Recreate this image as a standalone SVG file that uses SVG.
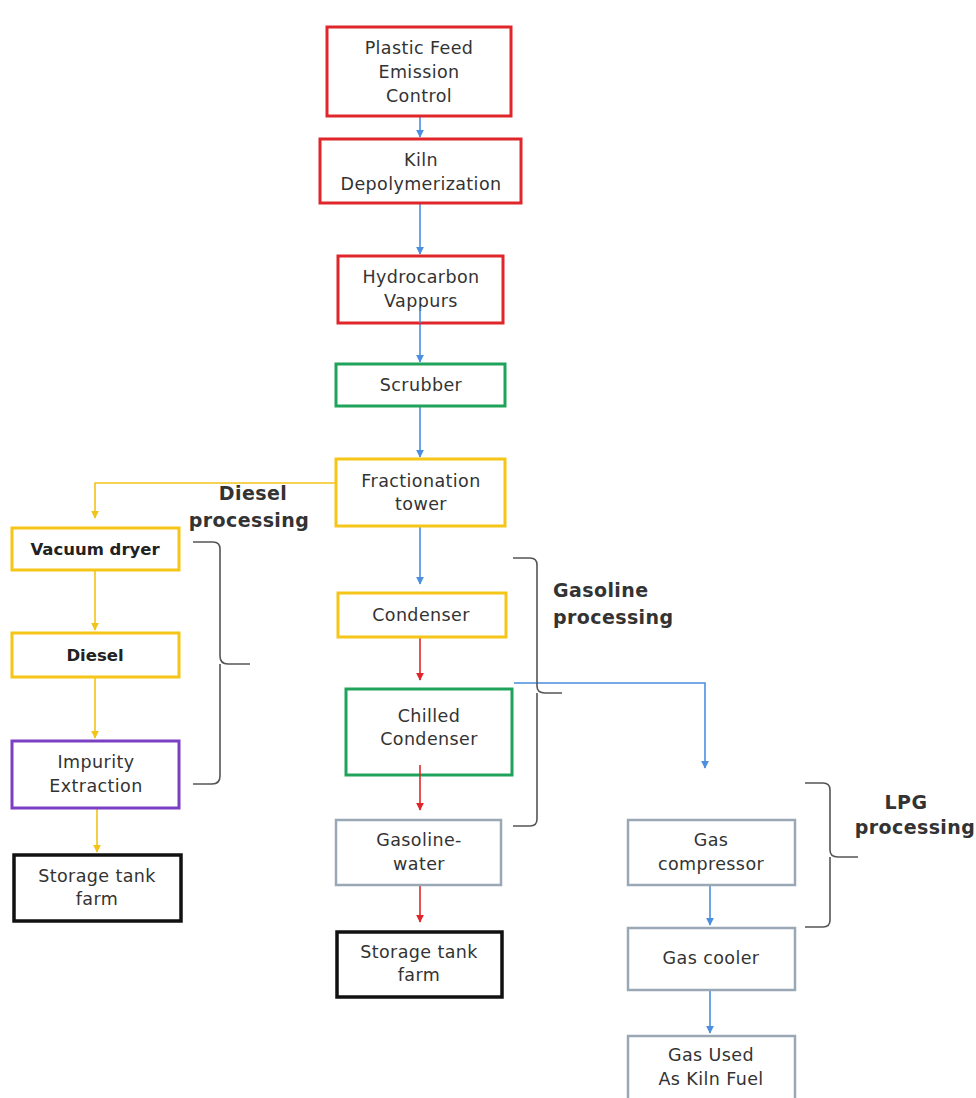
<svg xmlns="http://www.w3.org/2000/svg" width="976" height="1098" viewBox="0 0 976 1098">
<defs>
<style>
.box{fill:#fff;stroke-width:3}
.red{stroke:#e0262b}
.green{stroke:#1fa35a}
.yellow{stroke:#f5c518}
.purple{stroke:#7a3fc4}
.gray{stroke:#9aa8b6;stroke-width:2.5}
.black{stroke:#111;stroke-width:3.5}
text{font-family:"DejaVu Sans","Liberation Sans",sans-serif;font-size:17.5px;letter-spacing:0.4px;fill:#333;text-anchor:middle}
.b{font-weight:bold;fill:#222;font-size:16.5px;letter-spacing:0}
.lbl{font-weight:bold;font-size:19px;letter-spacing:0.4px;fill:#333}
.cb{fill:none;stroke-width:1.6}
.cblue{stroke:#4a8fe0}
.cred{stroke:#e0262b}
.cyel{stroke:#f2c318}
.brace{fill:none;stroke:#555;stroke-width:1.6}
</style>
<marker id="ab" viewBox="0 0 10 10" refX="9" refY="5" markerWidth="5" markerHeight="5" orient="auto"><path d="M0,0L10,5L0,10z" fill="#4a8fe0"/></marker>
<marker id="ar" viewBox="0 0 10 10" refX="9" refY="5" markerWidth="5" markerHeight="5" orient="auto"><path d="M0,0L10,5L0,10z" fill="#e0262b"/></marker>
<marker id="ay" viewBox="0 0 10 10" refX="9" refY="5" markerWidth="5" markerHeight="5" orient="auto"><path d="M0,0L10,5L0,10z" fill="#f2c318"/></marker>
</defs>
<rect width="976" height="1098" fill="#fff"/>
<g id="connectors">
<path class="cb cblue" d="M420,117V137" marker-end="url(#ab)"/>
<path class="cb cblue" d="M420,204V254" marker-end="url(#ab)"/>
<path class="cb cblue" d="M420,300V362" marker-end="url(#ab)"/>
<path class="cb cblue" d="M420,407V457" marker-end="url(#ab)"/>
<path class="cb cblue" d="M420,527V584" marker-end="url(#ab)"/>
<path class="cb cred" d="M420,638V680" marker-end="url(#ar)"/>
<path class="cb cred" d="M420,745V810" marker-end="url(#ar)"/>
<path class="cb cred" d="M420,886V922" marker-end="url(#ar)"/>
<path class="cb cblue" d="M514,683H705V768" marker-end="url(#ab)"/>
<path class="cb cblue" d="M710,886V925" marker-end="url(#ab)"/>
<path class="cb cblue" d="M710,991V1033" marker-end="url(#ab)"/>
<path class="cb cyel" d="M335,483H95V518" marker-end="url(#ay)"/>
<path class="cb cyel" d="M95,571V630" marker-end="url(#ay)"/>
<path class="cb cyel" d="M95,678V738" marker-end="url(#ay)"/>
<path class="cb cyel" d="M97,809V852" marker-end="url(#ay)"/>
</g>
<g id="braces">
<path class="brace" d="M193,542H213Q220,542 220,549V656Q220,664 228,664H250M220,664V776Q220,784 212,784H193"/>
<path class="brace" d="M513,558H530Q537,558 537,565V686Q537,693 545,693H562M537,693V819Q537,826 530,826H513"/>
<path class="brace" d="M805,783H823Q830,783 830,790V850Q830,857 838,857H858M830,857V920Q830,927 823,927H805"/>
</g>
<g id="labels">
<text class="lbl" x="253" y="500">Diesel</text>
<text class="lbl" x="249" y="527">processing</text>
<text class="lbl" x="553" y="597" style="text-anchor:start">Gasoline</text>
<text class="lbl" x="553" y="624" style="text-anchor:start">processing</text>
<text class="lbl" x="906" y="809">LPG</text>
<text class="lbl" x="915" y="834">processing</text>
</g>
<g id="n1"><rect class="box red" x="327" y="27" width="184" height="89"/><text x="419" y="54">Plastic Feed</text><text x="419" y="78">Emission</text><text x="419" y="102">Control</text></g>
<g id="n2"><rect class="box red" x="320" y="139" width="201" height="64"/><text x="421" y="166">Kiln</text><text x="421" y="190">Depolymerization</text></g>
<g id="n3"><rect class="box red" x="338" y="256" width="165" height="67"/><text x="421" y="283">Hydrocarbon</text><text x="421" y="307">Vappurs</text></g>
<path class="cb cblue" d="M420,308V323"/>
<g id="n4"><rect class="box green" x="336" y="364" width="169" height="42"/><text x="421" y="391">Scrubber</text></g>
<g id="n5"><rect class="box yellow" x="336" y="459" width="169" height="67"/><text x="421" y="487">Fractionation</text><text x="421" y="510">tower</text></g>
<g id="n6"><rect class="box yellow" x="12" y="528" width="167" height="42"/><text class="b" x="95" y="555">Vacuum dryer</text></g>
<g id="n7"><rect class="box yellow" x="12" y="633" width="167" height="44"/><text class="b" x="95" y="661">Diesel</text></g>
<g id="n8"><rect class="box purple" x="12" y="741" width="167" height="67"/><text x="96" y="768">Impurity</text><text x="96" y="792">Extraction</text></g>
<g id="n9"><rect class="box black" x="14" y="855" width="167" height="66"/><text x="97" y="882">Storage tank</text><text x="97" y="905">farm</text></g>
<g id="n10"><rect class="box yellow" x="338" y="593" width="168" height="44"/><text x="421" y="621">Condenser</text></g>
<g id="n11"><rect class="box green" x="346" y="689" width="166" height="86"/><text x="429" y="722">Chilled</text><text x="429" y="745">Condenser</text></g>
<path class="cb cred" d="M420,765V776"/>
<g id="n12"><rect class="box gray" x="336" y="820" width="165" height="65"/><text x="419" y="846">Gasoline-</text><text x="419" y="870">water</text></g>
<g id="n13"><rect class="box black" x="337" y="932" width="165" height="65"/><text x="419" y="958">Storage tank</text><text x="419" y="981">farm</text></g>
<g id="n14"><rect class="box gray" x="628" y="820" width="167" height="65"/><text x="711" y="846">Gas</text><text x="711" y="870">compressor</text></g>
<g id="n15"><rect class="box gray" x="628" y="928" width="167" height="62"/><text x="711" y="964">Gas cooler</text></g>
<g id="n16"><rect class="box gray" x="628" y="1036" width="167" height="70"/><text x="711" y="1061">Gas Used</text><text x="711" y="1085">As Kiln Fuel</text></g>
</svg>
